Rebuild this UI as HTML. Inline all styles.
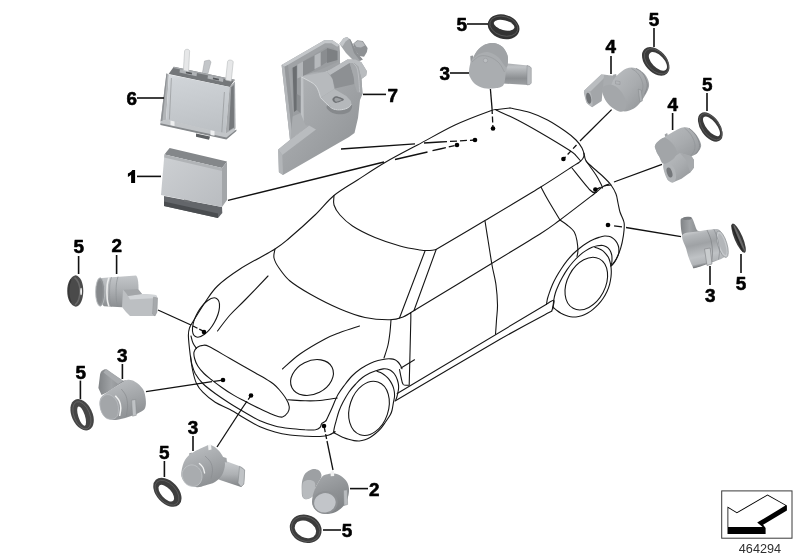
<!DOCTYPE html>
<html><head><meta charset="utf-8"><title>464294</title>
<style>
html,body{margin:0;padding:0;background:#fff;}
body{width:800px;height:560px;overflow:hidden;font-family:"Liberation Sans",sans-serif;}
svg{display:block;will-change:transform;opacity:0.9999}
svg text{font-family:"Liberation Sans",sans-serif;}
</style></head><body>
<svg width="800" height="560" viewBox="0 0 800 560">
<rect width="800" height="560" fill="#fff"/>
<defs>
<linearGradient id="gA" x1="0" y1="0" x2="1" y2="1"><stop offset="0" stop-color="#c6c9cc"/><stop offset="0.55" stop-color="#a9acaf"/><stop offset="1" stop-color="#85888b"/></linearGradient>
<linearGradient id="gB" x1="0" y1="0" x2="0" y2="1"><stop offset="0" stop-color="#c9cccf"/><stop offset="0.5" stop-color="#aeb1b4"/><stop offset="1" stop-color="#808386"/></linearGradient>
<linearGradient id="gC" x1="0" y1="0" x2="1" y2="0"><stop offset="0" stop-color="#8e9194"/><stop offset="0.5" stop-color="#b4b7ba"/><stop offset="1" stop-color="#9a9da0"/></linearGradient>
<linearGradient id="gF" x1="0" y1="0" x2="1" y2="1"><stop offset="0" stop-color="#cdd0d3"/><stop offset="1" stop-color="#b9bcc0"/></linearGradient>
<linearGradient id="g7" x1="0" y1="0" x2="1" y2="1"><stop offset="0" stop-color="#b6b9bc"/><stop offset="1" stop-color="#8b8e91"/></linearGradient>
<linearGradient id="gCyl" x1="0" y1="0" x2="0" y2="1"><stop offset="0" stop-color="#a9acaf"/><stop offset="0.18" stop-color="#c0c3c6"/><stop offset="0.7" stop-color="#8c8f92"/><stop offset="1" stop-color="#9da0a3"/></linearGradient>
<linearGradient id="gS4" x1="0" y1="0" x2="1" y2="1"><stop offset="0" stop-color="#bcbfc2"/><stop offset="0.5" stop-color="#a9acaf"/><stop offset="1" stop-color="#8e9194"/></linearGradient>
<linearGradient id="gCd" x1="0" y1="0" x2="1" y2="0"><stop offset="0" stop-color="#808386"/><stop offset="0.45" stop-color="#a0a3a6"/><stop offset="1" stop-color="#85888b"/></linearGradient>
<linearGradient id="gBody" x1="0" y1="0" x2="0.25" y2="1"><stop offset="0" stop-color="#e6e7e8"/><stop offset="0.2" stop-color="#b4b7ba"/><stop offset="0.45" stop-color="#9fa2a5"/><stop offset="0.75" stop-color="#bfc2c5"/><stop offset="0.92" stop-color="#b1b4b7"/><stop offset="1" stop-color="#6e7174"/></linearGradient>
<linearGradient id="gBody2" x1="0" y1="0" x2="0" y2="1"><stop offset="0" stop-color="#c3c6c9"/><stop offset="0.4" stop-color="#b0b3b6"/><stop offset="1" stop-color="#8b8e91"/></linearGradient>
<linearGradient id="gS3" x1="0.3" y1="0" x2="0.7" y2="1"><stop offset="0" stop-color="#bbbec1"/><stop offset="0.5" stop-color="#a3a6a9"/><stop offset="1" stop-color="#8a8d90"/></linearGradient>
<linearGradient id="gS2" x1="0.3" y1="0" x2="0.7" y2="1"><stop offset="0" stop-color="#a3a6a9"/><stop offset="0.5" stop-color="#8f9295"/><stop offset="1" stop-color="#7e8184"/></linearGradient>
<linearGradient id="gF6" x1="0" y1="0" x2="0.15" y2="1"><stop offset="0" stop-color="#dde0e4"/><stop offset="0.12" stop-color="#cfd3d7"/><stop offset="1" stop-color="#bdc1c5"/></linearGradient>
</defs>
<g fill="none" stroke="#161616" stroke-width="1.1" stroke-linecap="round" stroke-linejoin="round">
<path d="M510.0,108.0 C507.9,108.2 500.8,109.0 497.5,109.5 C494.2,110.0 497.1,108.4 490.0,111.0 C482.9,113.6 467.1,119.3 455.0,125.0 C442.9,130.7 429.2,138.8 417.5,145.0 C405.8,151.2 395.0,156.7 385.0,162.5 C375.0,168.3 366.0,174.5 357.5,180.0 C349.0,185.5 341.1,189.7 334.0,195.5 C326.9,201.3 322.3,208.0 315.0,215.0 C307.7,222.0 296.7,231.8 290.0,237.5 C283.3,243.2 283.3,243.8 275.0,249.0 C266.7,254.2 249.6,262.8 240.0,269.0 C230.4,275.2 223.3,280.4 217.5,286.0 C211.7,291.6 208.9,296.8 205.0,302.5 C201.1,308.2 196.6,315.8 194.0,320.0 C191.4,324.2 190.4,325.3 189.5,328.0 C188.6,330.7 188.3,331.5 188.4,336.0 C188.5,340.5 189.5,348.9 190.2,354.8 C191.0,360.6 191.7,366.2 192.8,371.0 C193.8,375.8 194.8,380.0 196.5,383.5 C198.2,387.0 199.6,389.1 202.8,392.2 C205.9,395.4 210.7,399.4 215.2,402.2 C219.8,405.1 225.0,406.8 230.0,409.5 C235.0,412.2 240.0,415.6 245.0,418.5 C250.0,421.4 255.0,424.5 260.0,426.8 C265.0,429.0 270.0,430.6 275.0,432.0 C280.0,433.4 285.0,434.3 290.0,435.0 C295.0,435.7 300.0,435.9 305.0,436.2 C310.0,436.4 316.0,436.7 320.0,436.5 C324.0,436.3 326.5,435.8 329.0,435.0 C331.5,434.2 334.0,432.2 335.0,431.7"/>
<path d="M510.0,108.0 C513.3,108.8 523.8,110.5 530.0,112.5 C536.2,114.5 541.7,116.9 547.5,120.0 C553.3,123.1 560.2,127.7 565.0,131.0 C569.8,134.3 573.2,137.2 576.0,140.0 C578.8,142.8 580.7,145.5 582.0,148.0 C583.3,150.5 583.9,153.2 584.0,155.0 C584.1,156.8 583.3,157.8 582.5,159.0 C581.7,160.2 580.9,161.1 579.0,162.5 C577.1,163.9 577.5,163.3 571.0,167.5 C564.5,171.7 554.3,178.7 540.0,187.5 C525.7,196.3 502.3,210.2 485.0,220.5 C467.7,230.8 444.2,244.7 436.0,249.5"/>
<path d="M496.0,110.0 C499.6,111.7 510.2,116.2 517.5,120.0 C524.8,123.8 531.4,127.5 540.0,132.5 C548.6,137.5 563.0,146.2 569.0,150.0 C575.0,153.8 574.1,153.8 576.0,155.6 C577.9,157.4 579.8,160.1 580.6,161.0"/>
<path d="M584.0,153.0 C584.3,154.2 584.6,158.0 585.6,160.0 C586.6,162.0 587.2,162.3 590.0,165.0 C592.8,167.7 599.0,172.7 602.5,176.0 C606.0,179.3 608.8,182.0 611.0,185.0 C613.2,188.0 614.8,191.0 616.0,194.0 C617.2,197.0 617.3,200.0 618.0,203.0 C618.7,206.0 619.1,209.2 620.0,212.0 C620.9,214.8 622.6,217.8 623.3,220.0 C624.0,222.2 624.3,222.4 624.3,225.0 C624.3,227.6 624.0,231.8 623.4,235.7 C622.8,239.6 621.9,244.3 620.7,248.2 C619.5,252.1 617.7,256.2 616.2,259.0 C614.8,261.8 612.5,264.2 611.8,265.2"/>
<path d="M586.0,161.0 C587.7,163.3 593.5,171.2 596.0,175.0 C598.5,178.8 599.9,181.8 601.0,184.0 C602.1,186.2 602.2,187.3 602.5,188.0"/>
<path d="M572.0,168.0 C575.0,171.7 586.0,185.9 590.0,190.0 C594.0,194.1 595.0,192.1 596.0,192.5"/>
<path d="M596.0,192.5 C590.0,197.1 569.3,213.1 560.0,220.0 C550.7,226.9 551.7,226.6 540.0,234.0 C528.3,241.4 510.8,251.8 490.0,264.5 C469.2,277.2 427.5,302.4 415.0,310.0"/>
<path d="M596.0,192.5 C597.3,191.4 601.5,187.2 604.0,186.0 C606.5,184.8 609.8,185.2 611.0,185.0"/>
<path d="M541.0,187.0 C542.2,189.2 544.8,194.5 548.0,200.0 C551.2,205.5 558.0,216.7 560.0,220.0"/>
<path d="M560.0,220.0 C561.2,220.8 564.7,223.0 567.1,225.0 C569.5,227.0 572.6,229.3 574.3,232.0 C575.9,234.7 576.4,237.8 577.0,241.0 C577.6,244.2 577.9,248.4 577.9,251.0 C577.9,253.6 577.1,255.6 577.0,256.5"/>
<path d="M485.0,221.0 C485.5,224.2 486.8,232.7 488.0,240.0 C489.2,247.3 490.7,257.5 492.0,265.0 C493.3,272.5 495.1,278.3 496.0,285.0 C496.9,291.7 497.4,299.2 497.5,305.0 C497.6,310.8 496.8,315.1 496.5,320.0 C496.2,324.9 495.7,331.9 495.5,334.2"/>
<path d="M334.0,195.5 C334.0,197.1 333.0,201.8 334.0,205.0 C335.0,208.2 336.9,211.5 340.0,215.0 C343.1,218.5 346.7,222.2 352.5,226.0 C358.3,229.8 367.1,234.2 375.0,237.5 C382.9,240.8 392.5,243.9 400.0,246.0 C407.5,248.1 415.0,249.2 420.0,250.0 C425.0,250.8 427.3,250.6 430.0,250.5 C432.7,250.4 435.0,249.7 436.0,249.5"/>
<path d="M275.0,249.0 C274.8,250.5 273.3,254.8 274.0,258.0 C274.7,261.2 276.3,264.2 279.0,268.0 C281.7,271.8 284.8,276.7 290.0,281.0 C295.2,285.3 301.7,289.3 310.0,294.0 C318.3,298.7 330.8,305.1 340.0,309.0 C349.2,312.9 356.7,315.7 365.0,317.5 C373.3,319.3 383.7,319.9 390.0,319.8 C396.3,319.7 398.8,318.6 403.0,317.0 C407.2,315.4 413.0,311.2 415.0,310.0"/>
<path d="M425.0,251.0 L399.5,318.0"/>
<path d="M436.0,250.0 L414.0,310.5"/>
<path d="M410.5,313.5 C410.5,314.6 411.0,308.0 410.8,320.0 C410.5,332.0 409.5,374.4 409.2,385.2"/>
<path d="M391.0,320.0 C390.8,322.0 390.5,327.8 390.0,332.0 C389.5,336.2 389.0,340.7 388.0,345.0 C387.0,349.3 384.7,355.8 384.0,358.0"/>
<path d="M268.0,276.0 C264.2,280.0 251.3,293.5 245.0,300.0 C238.7,306.5 234.6,309.8 230.0,315.0 C225.4,320.2 219.6,328.3 217.5,331.0"/>
<path d="M359.5,326.0 C356.2,327.1 345.8,330.3 340.0,332.5 C334.2,334.7 331.7,335.4 325.0,339.0 C318.3,342.6 307.1,349.0 300.0,354.0 C292.9,359.0 285.4,366.5 282.5,369.0"/>
<path d="M194.0,352.2 C194.4,350.4 195.5,348.6 197.0,347.5 C198.5,346.4 200.8,345.5 202.8,345.4 C204.8,345.2 204.5,344.4 209.0,346.6 C213.5,348.8 222.3,354.1 230.0,358.5 C237.7,362.9 249.1,369.4 255.0,372.7 C260.9,376.0 262.2,376.6 265.2,378.5 C268.3,380.4 271.1,382.1 273.5,384.0 C275.9,385.9 277.4,387.5 279.5,390.0 C281.6,392.5 284.6,396.2 286.2,399.0 C287.9,401.8 289.0,404.2 289.2,406.5 C289.5,408.8 288.9,410.8 287.8,412.5 C286.6,414.2 284.6,416.5 282.5,417.0 C280.4,417.5 278.8,416.9 275.0,415.5 C271.2,414.1 265.0,411.1 260.0,408.8 C255.0,406.4 249.3,403.5 245.0,401.2 C240.7,399.0 237.9,397.7 234.0,395.4 C230.1,393.1 225.2,389.9 221.5,387.2 C217.8,384.6 214.4,382.0 211.5,379.8 C208.6,377.5 206.3,375.8 204.0,373.5 C201.7,371.2 199.3,368.5 197.8,366.0 C196.2,363.5 195.2,360.8 194.6,358.5 C194.0,356.2 193.6,354.1 194.0,352.2Z"/>
<path d="M191.0,336.0 C191.3,337.2 192.1,340.9 193.0,343.0 C193.9,345.1 195.9,347.6 196.5,348.5"/>
<path d="M190.5,356.0 C190.8,357.5 191.2,361.8 192.0,364.8 C192.8,367.7 193.5,370.4 195.2,373.5 C197.0,376.6 199.4,380.2 202.8,383.5 C206.1,386.8 210.7,390.2 215.2,393.5 C219.8,396.8 225.0,400.3 230.0,403.5 C235.0,406.7 240.0,409.6 245.0,412.5 C250.0,415.4 255.0,418.5 260.0,420.8 C265.0,423.0 270.0,424.7 275.0,426.0 C280.0,427.3 285.0,427.9 290.0,428.5 C295.0,429.1 300.8,429.5 305.0,429.8 C309.2,430.0 313.0,430.1 315.5,429.8 C318.0,429.4 319.0,428.5 320.0,427.5 C321.0,426.5 320.9,424.6 321.5,423.8 C322.1,422.9 323.0,422.8 323.8,422.2 C324.5,421.8 325.6,421.0 326.0,420.8"/>
<path d="M287.8,399.8 C290.6,399.9 299.6,400.7 305.0,400.8 C310.4,400.9 314.6,401.0 320.0,400.5 C325.4,400.0 334.4,398.4 337.2,398.0"/>
<path d="M326.0,420.8 C326.4,420.0 327.2,418.4 328.2,416.2 C329.2,414.1 330.4,411.6 332.0,408.0 C333.6,404.4 335.8,398.5 338.0,394.6 C340.2,390.7 342.7,387.6 345.0,384.5 C347.3,381.4 349.3,378.7 352.0,376.0 C354.7,373.3 358.0,370.6 361.0,368.5 C364.0,366.4 367.2,364.7 370.0,363.4 C372.8,362.1 375.3,361.2 378.0,360.5 C380.7,359.8 383.8,359.3 386.0,359.0 C388.2,358.7 389.5,358.8 391.0,358.9 C392.5,359.0 393.8,359.3 395.0,359.8 C396.2,360.3 397.1,361.1 398.0,362.0 C398.9,362.9 399.7,364.1 400.4,365.2 C401.1,366.3 401.7,368.2 402.0,368.8"/>
<path d="M335.0,431.7 C334.8,431.8 333.7,433.3 333.6,432.5 C333.5,431.7 334.1,428.9 334.5,427.0 C334.9,425.1 335.2,424.1 336.0,421.4 C336.8,418.7 337.8,414.3 339.0,411.0 C340.2,407.7 341.5,405.0 343.2,401.8 C344.9,398.6 346.9,395.0 349.0,392.0 C351.1,389.0 353.4,386.4 355.7,384.0 C357.9,381.6 360.1,379.3 362.5,377.5 C364.9,375.7 367.8,374.1 370.0,373.0 C372.2,371.9 373.8,371.4 376.0,370.7 C378.2,370.0 381.4,369.2 383.2,368.9 C385.0,368.6 385.8,368.8 387.0,369.0 C388.2,369.2 389.3,369.7 390.4,370.3 C391.4,370.9 392.4,371.8 393.3,372.7 C394.2,373.6 395.0,374.8 395.7,376.0 C396.4,377.2 396.9,378.6 397.4,380.0 C397.8,381.4 398.2,382.8 398.4,384.1 C398.6,385.4 398.7,386.7 398.6,388.0 C398.5,389.3 398.3,390.6 398.0,392.0 C397.7,393.4 397.4,395.1 397.0,396.5 C396.6,397.9 395.9,399.6 395.7,400.2"/>
<path d="M377.0,371.2 C377.6,371.4 379.3,372.0 380.5,372.6 C381.7,373.2 382.9,373.9 384.1,374.7 C385.3,375.5 386.4,376.6 387.5,377.7 C388.6,378.8 389.6,380.1 390.4,381.4 C391.2,382.7 391.9,383.9 392.5,385.3 C393.1,386.7 393.6,388.1 393.9,389.5 C394.2,390.9 394.4,392.2 394.5,393.5 C394.6,394.8 394.6,396.1 394.4,397.5 C394.2,398.9 393.9,399.9 393.5,402.0 C393.1,404.1 392.6,407.9 392.1,410.0 C391.6,412.1 391.4,412.8 390.3,414.8 C389.2,416.8 387.1,419.7 385.5,422.0 C383.9,424.3 382.4,426.7 380.7,428.6 C379.0,430.5 377.3,432.0 375.5,433.5 C373.7,435.0 371.8,436.4 370.0,437.5 C368.2,438.6 366.8,439.2 365.0,439.8 C363.2,440.4 361.1,440.9 359.3,441.0 C357.5,441.1 355.8,440.9 354.0,440.6 C352.2,440.3 350.3,439.8 348.6,439.3 C346.9,438.8 345.5,438.3 344.0,437.7 C342.5,437.1 341.3,436.5 339.6,435.7 C337.9,434.9 334.6,433.2 333.6,432.7"/>
<path d="M397.2,393.5 L546.5,304.2"/>
<path d="M395.0,401.0 C412.5,390.7 473.9,354.3 500.0,339.3 C526.1,324.3 543.1,315.7 551.8,311.0"/>
<path d="M546.5,304.2 C547.8,303.6 553.1,299.4 554.0,300.5 C554.9,301.6 552.1,309.2 551.8,311.0"/>
<path d="M399.5,369.5 C399.8,370.8 400.4,374.5 401.0,377.0 C401.6,379.5 402.0,383.1 403.2,384.5 C404.5,385.9 407.6,385.1 408.5,385.2"/>
<path d="M401.0,368.0 L414.5,359.8"/>
<path d="M546.5,304.2 C546.7,303.3 547.0,300.4 547.5,298.5 C548.0,296.6 548.5,295.2 549.3,292.9 C550.1,290.6 551.3,287.2 552.5,284.5 C553.7,281.8 554.9,279.5 556.4,276.8 C557.9,274.1 559.7,271.2 561.5,268.5 C563.3,265.8 565.2,263.1 567.1,260.7 C569.0,258.3 570.9,256.1 573.0,254.0 C575.1,251.9 577.4,250.0 579.6,248.2 C581.9,246.4 584.1,244.8 586.5,243.3 C588.9,241.8 591.7,240.3 593.9,239.3 C596.1,238.3 597.7,237.8 599.5,237.2 C601.3,236.6 603.1,236.2 604.6,236.0 C606.1,235.8 607.3,236.1 608.5,236.3 C609.7,236.6 610.8,236.9 611.8,237.5 C612.8,238.1 613.9,238.9 614.8,239.8 C615.7,240.7 616.5,241.8 617.1,242.9 C617.7,244.0 618.2,245.3 618.5,246.5 C618.8,247.7 618.9,248.9 618.9,250.0 C618.9,251.1 618.9,252.1 618.8,253.0 C618.6,253.9 618.5,254.3 618.0,255.4 C617.5,256.5 616.7,258.5 616.0,259.8 C615.3,261.1 614.5,262.4 613.6,263.4 C612.8,264.4 611.4,265.6 610.9,266.0"/>
<path d="M552.9,309.0 C553.0,307.5 553.3,302.8 553.8,300.0 C554.2,297.2 554.8,294.9 555.5,292.5 C556.2,290.1 557.1,288.2 558.2,285.7 C559.3,283.2 560.8,280.2 562.3,277.5 C563.8,274.8 565.3,272.2 567.1,269.6 C568.9,267.0 570.9,264.4 573.0,262.0 C575.1,259.6 577.5,257.2 579.6,255.4 C581.7,253.6 583.4,252.2 585.5,250.9 C587.6,249.6 590.1,248.2 592.1,247.3 C594.1,246.5 595.7,246.1 597.5,245.8 C599.3,245.5 601.4,245.3 602.9,245.5 C604.4,245.7 605.3,246.2 606.3,246.8 C607.3,247.4 608.4,248.2 609.1,249.1 C609.9,250.0 610.3,250.9 610.8,252.0 C611.2,253.1 611.6,254.2 611.8,255.4 C612.0,256.6 612.0,257.8 612.0,259.0 C612.0,260.2 612.0,261.3 611.8,262.5 C611.6,263.7 611.0,265.4 610.9,266.0"/>
<path d="M594.8,247.3 C595.5,247.6 597.6,248.2 599.0,248.8 C600.4,249.4 601.8,250.1 602.9,250.9 C604.0,251.7 604.9,252.8 605.8,253.8 C606.7,254.8 607.5,255.8 608.2,257.1 C608.9,258.4 609.5,260.0 609.9,261.5 C610.3,263.0 610.7,264.3 610.9,266.0 C611.1,267.7 611.3,269.7 611.3,271.5 C611.3,273.3 611.3,274.7 611.0,276.8 C610.7,278.9 610.3,281.9 609.6,284.3 C608.9,286.8 608.1,289.2 607.0,291.5 C605.9,293.8 604.7,296.1 603.2,298.2 C601.8,300.3 600.0,302.5 598.3,304.4 C596.6,306.2 594.8,307.8 593.0,309.3 C591.2,310.8 589.2,312.1 587.3,313.2 C585.4,314.3 583.6,315.2 581.7,315.8 C579.8,316.4 577.9,316.9 576.0,317.0 C574.1,317.1 572.3,317.0 570.5,316.7 C568.7,316.4 567.0,315.8 565.4,315.2 C563.8,314.6 562.4,313.9 561.0,313.2 C559.6,312.4 558.6,311.7 557.3,310.7 C555.9,309.7 553.6,307.6 552.9,307.0"/>
<ellipse cx="206.0" cy="317.5" rx="9.7" ry="21.8" transform="rotate(29.0 206.0 317.5)" />
<ellipse cx="312.0" cy="377.5" rx="22.5" ry="16.5" transform="rotate(-27.0 312.0 377.5)" />
<ellipse cx="369.0" cy="408.4" rx="19.3" ry="27.8" transform="rotate(18.7 369.0 408.4)" />
<ellipse cx="586.3" cy="283.6" rx="19.0" ry="28.0" transform="rotate(28.0 586.3 283.6)" />
</g>
<g>
<polygon points="204.5,61.0 209.5,60.0 211.0,62.0 206.5,79.0 201.5,78.0" fill="#c3c6c9" stroke="#a0a3a6" stroke-width="0.5"/>
<polygon points="168.6,74.0 173.8,66.8 234.8,79.8 229.8,87.0" fill="#74777a" />
<polygon points="173.8,66.8 234.8,79.8 234.4,81.0 173.3,68.0" fill="#a3a6a9" />
<polygon points="180.0,69.2 197.0,72.8 196.5,76.2 179.5,72.5" fill="#b0b3b6" />
<polygon points="186.0,71.5 192.0,72.8 191.8,74.6 185.8,73.3" fill="#55585b" />
<polygon points="208.0,75.2 223.5,78.6 223.0,82.0 207.5,78.6" fill="#b0b3b6" />
<polygon points="213.0,77.4 219.0,78.7 218.8,80.5 212.8,79.2" fill="#55585b" />
<path d="M183.4,70.5 L184.6,51 C184.8,48.6 189.6,48.8 189.6,51.2 L188.6,71.6Z" fill="#e6e7e8" stroke="#b9bcbe" stroke-width="0.6"/>
<path d="M225.6,80 L227.6,61.5 C228,59.2 233.4,59.8 233.2,62.2 L231.2,81.2Z" fill="#e6e7e8" stroke="#b9bcbe" stroke-width="0.6"/>
<polygon points="166.4,73.4 168.9,74.5 166.1,120.0 160.6,121.6" fill="#b1b4b7" />
<polygon points="166.4,73.4 167.4,73.8 162.4,121.0 160.6,121.6" fill="#8f9295" />
<polygon points="168.9,74.5 229.6,87.0 225.5,134.3 166.1,120.0" fill="url(#gF6)" />
<polygon points="229.6,87.0 235.0,81.5 235.6,128.5 225.5,134.3" fill="#a5a8ab" />
<polygon points="231.2,87.6 233.8,85.0 234.0,127.4 229.0,130.4" fill="#75787b" />
<polygon points="160.4,121.4 166.1,119.6 225.5,133.6 233.6,128.5 236.4,130.4 226.4,138.9 160.4,124.6" fill="#c2c5c8" />
<polygon points="160.4,123.2 226.4,137.6 236.4,129.6 236.4,130.9 226.4,139.4 160.4,125.0" fill="#85888b" />
<polygon points="170.5,120.5 174.5,121.4 174.5,126.0 170.5,125.1" fill="#eeeff0" />
<polygon points="210.5,130.2 214.5,131.1 214.5,135.8 210.5,134.9" fill="#eeeff0" />
<path d="M171.4,78 L169.4,119.6 M224.4,92 L221.8,132.2" stroke="#9a9da0" stroke-width="0.8" fill="none"/>
<polygon points="196.0,133.4 210.0,136.6 209.0,139.8 196.0,136.8" fill="#5d6063" />
</g>
<g>
<polygon points="164.0,206.0 164.0,196.0 222.0,207.0 222.3,213.0 218.0,218.0" fill="#63666a" />
<polygon points="164.0,201.5 218.0,213.5 218.0,218.0 164.0,206.0" fill="#4a4d50" />
<polygon points="164.4,154.4 169.6,148.0 227.0,161.6 222.0,168.0" fill="#84878a" />
<polygon points="222.0,168.0 227.0,161.6 227.0,200.0 222.0,207.0" fill="#a3a6a9" />
<polygon points="164.4,154.4 222.0,168.0 222.0,207.0 161.0,195.0" fill="url(#gF)" />
<polygon points="164.4,154.4 222.0,168.0 222.0,171.0 164.2,157.4" fill="#b0b3b6" />
<polygon points="184.0,199.5 190.0,200.8 190.0,203.0 184.0,201.7" fill="#6b6e71" />
</g>
<g>
<polygon points="339.4,43.8 343.5,38.2 347.0,36.9 350.4,39.6 357.3,53.4 362.8,59.6 356.0,63.0 346.0,53.0" fill="#a2a5a8" />
<polygon points="339.4,43.8 343.5,38.2 347.0,36.9 349.3,38.7 345.5,41.5 342.5,46.5" fill="#c3c6c9" />
<polygon points="349.3,38.7 350.4,39.6 357.3,53.4 362.8,59.6 360.0,60.5 354.0,53.0" fill="#8c8f92" />
<polygon points="353.1,43.8 357.3,40.3 362.8,41.0 367.6,47.9 366.9,52.0 364.1,56.8 359.0,56.0 355.0,50.0" fill="#8e9194" />
<polygon points="354.0,43.6 357.5,41.0 362.3,41.6 365.0,45.5 361.0,47.5 356.5,47.0" fill="#b6b9bc" />
<polygon points="281.6,65.0 324.3,40.3 332.5,40.3 339.4,45.0 340.0,52.0 340.0,66.0 301.0,82.0 301.0,130.0 290.0,140.0" fill="#a0a3a6" />
<polygon points="281.6,65.0 324.3,40.3 332.5,40.3 339.4,45.0 337.2,46.7 331.5,43.2 325.0,43.2 284.6,66.8" fill="#c4c7ca" />
<polygon points="281.6,65.0 284.6,66.8 292.7,138.5 290.0,140.0" fill="#b4b7ba" />
<polygon points="284.6,66.8 288.0,65.0 295.5,136.0 292.7,138.5" fill="#95989b" />
<polygon points="291.5,68.5 326.0,47.2 333.0,47.8 337.3,51.0 337.5,62.0 301.0,78.0 300.5,113.0 293.5,116.0" fill="#9a9da0" />
<polygon points="292.6,67.8 296.8,65.5 296.8,110.0 294.0,112.0" fill="#6b6e71" />
<polygon points="297.4,64.4 303.0,61.6 303.0,76.0 297.4,78.5" fill="#b3b6b9" />
<polygon points="303.0,61.6 314.6,55.4 314.6,70.0 303.0,76.0" fill="#8a8d90" />
<polygon points="314.6,55.4 320.8,52.2 320.8,66.0 314.6,69.0" fill="#b6b9bc" />
<polygon points="320.8,52.2 327.0,48.5 327.0,62.0 320.8,66.0" fill="#8a8d90" />
<polygon points="327.0,48.0 337.5,51.0 337.5,60.0 327.0,63.0" fill="#7d8083" />
<polygon points="296.8,94.0 300.5,96.0 300.5,113.0 296.8,110.0" fill="#8a8d90" />
<polygon points="300.9,76.8 313.0,72.6 326.9,71.4 347.4,59.4 355.4,59.4 361.4,62.3 366.9,71.2 366.2,75.4 361.5,79.0 362.5,94.0 360.0,100.0 358.0,118.0 354.5,133.0 349.0,137.0 283.0,175.0 278.9,172.2 278.2,149.5 290.5,139.5 301.0,131.0" fill="url(#g7)" />
<polygon points="300.9,76.8 303.3,76.4 303.8,129.0 301.0,131.0" fill="#bfc2c5" />
<polygon points="301.1,76.6 326.9,71.4 332.6,78.9 334.3,89.1 320.6,97.7 317.7,89.1 313.1,83.4" fill="#b7babd" />
<path d="M301.5,77.0 C303.4,78.1 310.4,81.4 313.1,83.4 C315.8,85.4 316.4,86.7 317.7,89.1 C318.9,91.5 320.1,96.3 320.6,97.7" fill="none" stroke="#d3d6d8" stroke-width="1.0"/>
<polygon points="326.9,71.4 347.4,59.4 355.4,59.4 361.4,62.3 366.9,71.2 366.2,75.4 361.5,79.0 358.3,66.5 354.0,63.0 349.7,62.9 330.3,74.9" fill="#b9bcbf" />
<polygon points="330.3,74.9 349.7,62.9 353.7,76.6 354.5,84.0 334.9,88.5 332.6,78.9" fill="#8d9093" />
<polygon points="349.7,62.9 354.0,63.0 358.3,66.5 361.5,79.0 362.5,94.0 357.0,92.0 354.5,84.0 353.7,76.6" fill="#a5a8ab" />
<path d="M353.3,63.2 C353.9,64.0 356.1,65.4 357.0,68.0 C357.9,70.6 358.4,75.0 358.8,79.0 C359.2,83.0 359.5,89.8 359.6,92.0" fill="none" stroke="#bec1c4" stroke-width="0.9"/>
<polygon points="320.6,97.7 334.3,89.1 346.3,96.0 350.9,101.1 351.4,104.0 348.6,107.4 341.7,109.7 333.7,109.1 328.0,105.1" fill="#b5b8bb" />
<path d="M328.0,105.1 C329.1,105.2 331.4,108.3 333.7,109.1 C336.0,109.9 339.2,110.0 341.7,109.7 C344.2,109.4 347.0,108.4 348.6,107.4 C350.2,106.5 350.8,104.0 351.4,104.0 C352.0,104.0 352.4,106.1 352.0,107.4 C351.6,108.7 350.8,110.8 349.1,112.0 C347.4,113.2 344.4,114.1 341.7,114.3 C338.9,114.5 335.1,114.0 332.6,113.1 C330.1,112.1 327.7,109.9 326.9,108.6 C326.1,107.3 326.9,105.0 328.0,105.1Z" fill="#86898c" />
<path d="M320.6,97.7 C321.8,98.9 325.8,103.2 328.0,105.1 C330.2,107.0 331.4,108.3 333.7,109.1 C336.0,109.9 339.2,110.0 341.7,109.7 C344.2,109.4 347.0,108.4 348.6,107.4 C350.2,106.5 350.9,104.6 351.4,104.0" fill="none" stroke="#d6d9db" stroke-width="1.0"/>
<path d="M332.6,98.6 C333.1,97.8 334.2,96.2 336.0,96.2 C337.8,96.2 342.7,98.1 343.6,98.9 C344.6,99.7 343.0,100.4 341.7,101.1 C340.4,101.8 337.4,102.9 336.0,102.9 C334.6,102.9 333.7,102.0 333.1,101.3 C332.5,100.6 332.1,99.4 332.6,98.6Z" fill="#6e7174" />
<path d="M334.5,99.0 C334.8,98.5 335.3,97.7 336.5,97.8 C337.7,97.9 340.8,98.9 341.5,99.4 C342.2,99.9 341.4,100.2 340.5,100.6 C339.6,101.0 337.3,101.8 336.3,101.8 C335.3,101.8 335.0,101.1 334.7,100.6 C334.4,100.1 334.2,99.5 334.5,99.0Z" fill="#9da0a3" />
<polygon points="278.2,149.5 290.5,139.5 309.1,125.4 316.0,129.6 282.3,155.0" fill="#b9bcbf" />
<polygon points="278.2,149.5 282.3,155.0 283.0,175.0 278.9,172.2" fill="#b2b5b8" />
<polygon points="292.6,116.5 300.5,113.0 305.7,125.4 309.1,125.4 290.5,139.5" fill="#a9acaf" />
</g>
<ellipse cx="503.6" cy="26.8" rx="16.2" ry="12.0" transform="rotate(18.0 503.6 26.8)" fill="#333" /><ellipse cx="503.8" cy="26.2" rx="14.4" ry="9.6" transform="rotate(16.8 503.8 26.2)" fill="none" stroke="#626262" stroke-width="0.7"/><ellipse cx="504.1" cy="25.2" rx="10.6" ry="4.9" transform="rotate(15.0 504.1 25.2)" fill="#fff" />
<ellipse cx="655.7" cy="61.3" rx="16.6" ry="10.8" transform="rotate(48.0 655.7 61.3)" fill="#3a3a3a" /><ellipse cx="656.6" cy="61.3" rx="15.0" ry="9.3" transform="rotate(47.2 656.6 61.3)" fill="none" stroke="#626262" stroke-width="0.7"/><ellipse cx="657.9" cy="61.4" rx="11.5" ry="6.0" transform="rotate(46.0 657.9 61.4)" fill="#fff" />
<ellipse cx="710.3" cy="127.0" rx="16.6" ry="9.6" transform="rotate(55.0 710.3 127.0)" fill="#3a3a3a" /><ellipse cx="710.8" cy="126.7" rx="15.2" ry="8.2" transform="rotate(53.4 710.8 126.7)" fill="none" stroke="#626262" stroke-width="0.7"/><ellipse cx="711.5" cy="126.3" rx="12.0" ry="5.0" transform="rotate(51.0 711.5 126.3)" fill="#fff" />
<ellipse cx="82.1" cy="414.8" rx="16.6" ry="10.3" transform="rotate(65.0 82.1 414.8)" fill="#454545" /><ellipse cx="81.9" cy="415.3" rx="14.4" ry="7.9" transform="rotate(67.8 81.9 415.3)" fill="none" stroke="#6a6a6a" stroke-width="0.7"/><ellipse cx="81.6" cy="416.1" rx="10.1" ry="3.3" transform="rotate(72.0 81.6 416.1)" fill="#fff" />
<ellipse cx="167.4" cy="492.3" rx="17.0" ry="11.0" transform="rotate(47.0 167.4 492.3)" fill="#3e3e3e" /><ellipse cx="167.0" cy="492.7" rx="14.7" ry="9.0" transform="rotate(47.4 167.0 492.7)" fill="none" stroke="#626262" stroke-width="0.7"/><ellipse cx="166.3" cy="493.2" rx="10.3" ry="5.0" transform="rotate(48.0 166.3 493.2)" fill="#fff" />
<ellipse cx="305.7" cy="528.8" rx="16.3" ry="13.8" transform="rotate(25.0 305.7 528.8)" fill="#3c3c3c" /><ellipse cx="305.6" cy="529.0" rx="14.7" ry="12.0" transform="rotate(25.0 305.6 529.0)" fill="none" stroke="#626262" stroke-width="0.7"/><ellipse cx="305.4" cy="529.4" rx="11.2" ry="8.2" transform="rotate(25.0 305.4 529.4)" fill="#fff" />
<ellipse cx="738.6" cy="238.2" rx="15.8" ry="4.1" transform="rotate(67.0 738.6 238.2)" fill="#3b3b3b" />
<ellipse cx="739.3" cy="238.0" rx="14.2" ry="1.1" transform="rotate(67.0 739.3 238.0)" fill="#6a6a6a" />
<ellipse cx="737.2" cy="238.6" rx="15.0" ry="0.8" transform="rotate(67.0 737.2 238.6)" fill="#252525" />
<path d="M75.5,275.3 C80.5,276 83.4,283 83.3,291 C83.2,299.5 80.5,306.2 75.8,306.8 C70.5,305.5 67.2,299 67.2,291 C67.2,283 70.5,276.5 75.5,275.3Z" fill="#4a4a4a"/>
<path d="M74.5,277.5 C78,280 80,285 80,291 C80,297.5 78,302.5 75,305" stroke="#686868" stroke-width="1.6" fill="none"/>
<path d="M71,279.5 C69.3,283 68.7,287 68.7,291 C68.7,295.5 69.5,299.5 71.3,302.5" stroke="#353535" stroke-width="1.2" fill="none"/>
<ellipse cx="81.1" cy="291.5" rx="0.9" ry="3.8" transform="rotate(0.0 81.1 291.5)" fill="#f2f2f2" />
<g>
<polygon points="503.0,63.0 528.0,65.5 531.0,67.5 531.0,83.0 528.0,85.0 503.0,83.5" fill="url(#gCyl)" />
<polygon points="527.0,65.5 530.0,66.5 531.3,68.0 531.3,83.0 530.0,84.5 527.0,85.0" fill="#b8bbbe" stroke="#8a8d90" stroke-width="0.5"/>
<polygon points="470.3,56.0 473.0,55.5 473.5,65.0 470.8,66.0" fill="#95989b" />
<path d="M469.0,73.0 C469.0,70.5 469.2,66.7 470.5,63.0 C471.8,59.3 474.6,54.1 477.0,51.0 C479.4,47.9 482.2,45.8 485.0,44.5 C487.8,43.2 491.2,42.7 494.0,43.0 C496.8,43.3 499.8,44.7 502.0,46.5 C504.2,48.3 506.0,51.6 507.0,54.0 C508.0,56.4 508.2,58.0 508.0,61.0 C507.8,64.0 506.8,68.0 506.0,72.0 C505.2,76.0 505.3,82.3 503.5,85.0 C501.7,87.7 498.2,87.8 495.0,88.3 C491.8,88.8 487.3,89.0 484.0,88.3 C480.7,87.6 477.2,85.7 475.0,84.0 C472.8,82.3 471.5,79.8 470.5,78.0 C469.5,76.2 469.0,75.5 469.0,73.0Z" fill="#aaadb0" />
<path d="M474.0,58.0 C473.7,57.5 475.2,53.2 477.0,51.0 C478.8,48.8 482.2,45.8 485.0,44.5 C487.8,43.2 491.2,42.7 494.0,43.0 C496.8,43.3 499.8,44.7 502.0,46.5 C504.2,48.3 506.0,51.6 507.0,54.0 C508.0,56.4 508.2,58.8 508.0,61.0 C507.8,63.2 507.7,67.7 506.0,67.0 C504.3,66.3 501.0,59.5 498.0,57.0 C495.0,54.5 491.2,52.5 488.0,52.0 C484.8,51.5 481.3,53.0 479.0,54.0 C476.7,55.0 474.3,58.5 474.0,58.0Z" fill="#a0a3a6" />
<path d="M472.0,62.0 C473.3,61.0 477.0,56.8 480.0,56.0 C483.0,55.2 486.8,55.8 490.0,57.0 C493.2,58.2 496.6,60.5 499.0,63.0 C501.4,65.5 503.6,70.5 504.5,72.0" fill="none" stroke="#96999c" stroke-width="0.7"/>
<circle cx="485.5" cy="60.5" r="2.2" fill="#bcbfc2" stroke="#909396" stroke-width="0.5"/>
</g>
<g>
<polygon points="584.0,90.7 601.2,74.6 607.1,75.1 611.4,77.8 612.0,86.0 602.8,88.0 601.7,100.9 592.1,107.3 586.7,103.0" fill="#a3a6a9" />
<polygon points="584.0,90.7 601.2,74.6 607.1,75.1 590.5,91.4" fill="#babdc0" />
<path d="M584.2,91.0 C585.0,90.0 588.2,90.3 589.5,91.3 C590.8,92.3 591.3,94.5 591.8,97.0 C592.3,99.5 593.1,105.5 592.3,106.5 C591.5,107.5 588.2,104.6 587.0,103.0 C585.8,101.4 585.3,99.0 584.8,97.0 C584.3,95.0 583.4,92.0 584.2,91.0Z" fill="#b4b7ba" />
<ellipse cx="588.7" cy="98.3" rx="2.4" ry="5.6" transform="rotate(-12.0 588.7 98.3)" fill="#6f7275" />
<polygon points="604.0,75.0 613.0,75.5 618.0,76.0 614.0,96.0 602.8,89.0" fill="#a9acaf" />
<polygon points="613.0,74.7 616.2,74.1 616.7,78.4 613.5,79.0" fill="#a3a6a9" />
<path d="M611.4,84.8 C612.2,81.6 614.2,78.4 616.7,75.7 C619.2,73.0 623.2,69.7 626.4,68.4 C629.6,67.2 633.0,67.2 636.0,68.2 C639.0,69.2 642.5,71.7 644.6,74.1 C646.8,76.5 648.4,80.0 648.9,82.7 C649.4,85.4 649.0,87.2 647.8,90.2 C646.5,93.2 643.7,97.9 641.4,100.9 C639.1,103.9 636.9,106.7 633.9,108.4 C630.9,110.1 626.2,112.0 623.2,111.3 C620.2,110.6 617.9,106.7 616.0,104.0 C614.1,101.3 612.8,98.2 612.0,95.0 C611.2,91.8 610.6,88.0 611.4,84.8Z" fill="url(#gS4)" />
<path d="M636.0,68.4 C636.8,68.9 639.5,70.1 641.0,71.5 C642.5,72.9 644.0,74.6 645.0,77.0 C646.0,79.4 647.4,83.0 647.3,85.9 C647.2,88.8 645.0,93.0 644.6,94.4" fill="none" stroke="#84878a" stroke-width="0.8"/>
<path d="M631.5,68.5 C632.4,69.2 635.4,70.8 637.0,72.5 C638.6,74.2 640.0,76.1 641.0,78.5 C642.0,80.9 643.1,84.2 643.0,87.0 C642.9,89.8 640.9,94.1 640.5,95.5" fill="none" stroke="#8d9093" stroke-width="0.6"/>
<polygon points="638.2,89.1 641.4,90.2 642.4,100.9 639.8,101.9" fill="#adb0b3" stroke="#85888b" stroke-width="0.5"/>
<path d="M602.3,87.5 C603.6,85.7 608.6,84.5 611.4,84.8 C614.2,85.1 616.8,87.1 618.9,89.1 C621.0,91.1 623.0,93.9 624.2,96.6 C625.5,99.3 626.6,102.8 626.4,105.2 C626.2,107.7 624.8,110.4 623.2,111.3 C621.6,112.2 619.2,111.7 616.7,110.5 C614.2,109.3 610.4,106.6 608.2,104.1 C606.0,101.6 604.3,98.3 603.3,95.5 C602.3,92.7 600.9,89.3 602.3,87.5Z" fill="#a4a7aa" />
<polygon points="615.5,80.8 620.0,81.5 620.0,84.5 615.5,83.8" fill="none" stroke="#909396" stroke-width="0.5"/>
</g>
<g>
<polygon points="664.6,134.4 667.1,133.1 668.2,136.5 665.5,138.0" fill="#a0a3a6" />
<path d="M655.2,145.0 C656.6,142.9 660.5,140.0 664.0,137.5 C667.5,135.0 673.4,131.7 676.5,130.0 C679.6,128.3 680.7,127.8 682.8,127.5 C684.8,127.2 686.7,126.8 689.0,128.1 C691.3,129.3 694.5,132.4 696.5,135.0 C698.5,137.6 700.3,141.5 700.9,143.8 C701.5,146.0 701.0,147.1 700.2,148.8 C699.5,150.4 698.0,152.5 696.5,153.8 C695.0,155.0 694.2,155.2 691.5,156.2 C688.8,157.3 683.9,158.9 680.0,160.0 C676.1,161.1 671.5,163.6 668.0,163.0 C664.5,162.4 661.0,158.4 659.0,156.2 C657.0,154.1 656.5,151.9 655.9,150.0 C655.3,148.1 653.9,147.1 655.2,145.0Z" fill="url(#gS4)" />
<path d="M689.0,128.3 C690.0,129.2 693.3,131.7 695.0,134.0 C696.7,136.3 698.3,139.5 699.0,142.0 C699.7,144.5 699.6,147.0 699.0,149.0 C698.4,151.0 696.1,153.2 695.5,154.0" fill="none" stroke="#84878a" stroke-width="0.8"/>
<path d="M684.5,128.0 C685.5,129.0 688.8,131.6 690.5,134.0 C692.2,136.4 693.8,139.8 694.5,142.5 C695.2,145.2 695.1,147.8 694.5,150.0 C693.9,152.2 691.6,154.6 691.0,155.5" fill="none" stroke="#8d9093" stroke-width="0.6"/>
<polygon points="663.4,163.8 680.0,153.0 691.5,156.2 694.0,160.0 694.0,167.5 690.2,172.5 681.5,178.8 672.8,182.5 667.8,180.0 664.0,170.0" fill="url(#gS4)" />
<polygon points="680.0,153.0 691.5,156.2 694.0,160.0 694.0,167.5 690.2,172.5 686.0,160.0" fill="#a6a9ac" />
<path d="M663.5,164.5 C664.3,163.0 667.2,162.2 669.0,163.0 C670.8,163.8 673.3,166.5 674.5,169.0 C675.7,171.5 676.3,175.8 676.0,178.0 C675.7,180.2 674.1,182.2 672.8,182.5 C671.4,182.8 669.2,181.8 667.8,180.0 C666.3,178.2 665.0,174.6 664.3,172.0 C663.6,169.4 662.7,166.0 663.5,164.5Z" fill="#b1b4b7" />
<ellipse cx="669.5" cy="172.5" rx="2.6" ry="5.2" transform="rotate(-18.0 669.5 172.5)" fill="#74777a" />
<path d="M655.2,145.0 C655.8,143.4 657.5,141.7 659.0,140.5 C660.5,139.3 662.2,137.7 664.0,137.8 C665.8,137.9 668.1,139.3 670.0,141.0 C671.9,142.7 674.4,145.8 675.5,148.0 C676.6,150.2 677.1,152.0 676.5,154.0 C675.9,156.0 674.2,158.4 672.0,160.0 C669.8,161.6 665.6,164.4 663.4,163.8 C661.2,163.1 660.2,158.5 659.0,156.2 C657.8,154.0 656.5,151.9 655.9,150.0 C655.3,148.1 654.7,146.6 655.2,145.0Z" fill="#a2a5a8" />
</g>
<g>
<path d="M680.6,221.2 C680.6,218.3 681.4,218.8 682.5,218.1 C683.6,217.4 685.9,216.9 687.5,216.9 C689.1,216.9 690.7,216.9 691.9,218.1 C693.1,219.3 693.7,222.0 694.5,224.0 C695.3,226.0 696.0,228.7 696.9,230.0 C697.8,231.3 701.1,231.2 700.0,232.0 C698.9,232.8 692.9,234.3 690.0,235.0 C687.1,235.7 684.4,238.3 682.8,236.0 C681.2,233.7 680.6,224.2 680.6,221.2Z" fill="url(#gCd)" />
<ellipse cx="687.2" cy="218.3" rx="4.6" ry="1.5" transform="rotate(-5.0 687.2 218.3)" fill="#7b7e81" />
<path d="M682.5,235.0 C684.3,232.1 692.2,232.4 697.0,231.5 C701.8,230.6 707.4,229.6 711.2,229.4 C715.1,229.2 717.7,228.4 720.0,230.6 C722.3,232.8 723.9,238.8 725.0,242.5 C726.1,246.2 727.1,250.0 726.9,252.5 C726.7,255.0 726.6,255.7 723.8,257.5 C720.9,259.3 714.8,261.3 710.0,263.1 C705.2,264.9 697.9,267.6 695.0,268.1 C692.1,268.6 693.6,268.1 692.5,266.2 C691.4,264.4 689.5,259.9 688.5,257.0 C687.5,254.1 687.2,252.4 686.2,248.8 C685.2,245.1 680.7,237.9 682.5,235.0Z" fill="url(#gBody)"/>
<ellipse cx="722.3" cy="244.2" rx="4.6" ry="13.8" transform="rotate(-17.0 722.3 244.2)" fill="#c6c9cc" stroke="#8d9093" stroke-width="0.7"/>
<ellipse cx="722.3" cy="244.2" rx="2.8" ry="11.2" transform="rotate(-17.0 722.3 244.2)" fill="#b3b6b9" />
<path d="M707.0,230.0 C707.7,231.7 710.1,236.3 711.0,240.0 C711.9,243.7 712.4,248.2 712.5,252.0 C712.6,255.8 711.7,260.8 711.5,262.5" fill="none" stroke="#7f8285" stroke-width="0.7"/>
<path d="M714.0,229.5 C714.7,231.2 717.1,236.4 718.0,240.0 C718.9,243.6 719.4,247.8 719.5,251.0 C719.6,254.2 718.7,258.1 718.5,259.5" fill="none" stroke="#8a8d90" stroke-width="0.7"/>
<polygon points="704.5,249.0 710.2,248.0 712.0,264.0 707.0,265.5" fill="#c9ccce" stroke="#7f8285" stroke-width="0.6"/>
</g>
<g>
<path d="M102,278 L136,275.5 C138,277 138.5,283 138.5,289 L130,300 L122,307.2 L104,306.2 C99,302 98,283 102,278Z" fill="url(#gBody2)"/>
<ellipse cx="100.2" cy="292.0" rx="4.6" ry="14.2" transform="rotate(0.0 100.2 292.0)" fill="#8f9295" stroke="#b9bcbf" stroke-width="0.8"/>
<ellipse cx="99.7" cy="292.0" rx="3.0" ry="11.5" transform="rotate(0.0 99.7 292.0)" fill="#85888b" />
<path d="M109.0,277.3 C108.7,278.6 107.5,281.4 107.2,285.0 C106.9,288.6 106.9,295.4 107.2,299.0 C107.5,302.6 108.7,305.2 109.0,306.5" fill="none" stroke="#eceded" stroke-width="1.6"/>
<path d="M118.0,276.6 C117.7,278.0 116.6,281.3 116.3,285.0 C116.0,288.7 116.0,295.3 116.3,299.0 C116.6,302.7 117.7,305.7 118.0,307.0" fill="none" stroke="#8d9093" stroke-width="0.7"/>
<path d="M111.5,277.0 C111.2,278.3 110.1,281.3 109.8,285.0 C109.5,288.7 109.5,295.4 109.8,299.0 C110.1,302.6 111.2,305.5 111.5,306.8" fill="none" stroke="#8d9093" stroke-width="0.6"/>
<polygon points="123.0,289.5 138.0,289.0 142.0,294.0 156.0,295.0 157.5,298.0 157.0,312.0 155.0,316.0 130.0,316.0 126.0,312.0 122.0,307.0" fill="#bcbfc2" />
<polygon points="128.0,296.0 142.0,294.0 156.0,295.0 157.5,298.0 130.0,299.5" fill="#d2d5d8" />
<polygon points="123.0,289.5 138.0,289.0 142.0,294.0 128.0,296.0 126.0,293.0" fill="#a3a6a9" />
<polygon points="153.5,297.0 157.5,298.0 157.0,312.0 155.0,316.0 152.5,314.0" fill="#a6a9ac" stroke="#8d9093" stroke-width="0.4"/>
</g>
<g>
<path d="M98.4,388 L100,375 C100.6,371 104,368.6 107,369.6 L123,380.8 L127.1,380 L119.2,384.5 L106.9,392.4 L101.5,395 Z" fill="url(#gCd)"/>
<polygon points="106.0,369.4 123.0,380.8 118.0,384.0 103.5,372.5" fill="#a9acaf" />
<path d="M100.1,399.1 C101.0,395.9 103.7,394.8 106.9,392.4 C110.1,390.0 115.8,386.6 119.2,384.5 C122.6,382.4 124.5,380.5 127.1,380.0 C129.7,379.5 132.4,380.2 135.0,381.7 C137.6,383.2 141.1,386.1 142.9,389.0 C144.7,391.9 145.3,395.9 145.7,399.1 C146.1,402.3 146.1,405.9 145.1,408.1 C144.1,410.4 142.3,411.1 139.5,412.6 C136.7,414.1 132.1,415.9 128.2,417.1 C124.3,418.3 119.5,419.7 115.9,419.9 C112.4,420.1 109.4,419.6 106.9,418.2 C104.5,416.8 102.3,414.7 101.2,411.5 C100.1,408.3 99.1,402.3 100.1,399.1Z" fill="url(#gS3)" />
<path d="M100.1,401.0 C100.6,399.3 101.7,397.6 103.0,396.5 C104.3,395.4 106.2,394.5 108.0,394.6 C109.8,394.7 111.9,395.6 113.5,397.0 C115.1,398.4 116.7,400.8 117.5,403.0 C118.3,405.2 118.6,407.8 118.5,410.0 C118.4,412.2 118.1,414.9 117.0,416.5 C115.9,418.1 113.8,419.1 112.0,419.4 C110.2,419.6 107.7,419.1 106.0,418.0 C104.3,416.9 102.8,414.4 101.8,412.5 C100.8,410.6 100.3,408.4 100.0,406.5 C99.7,404.6 99.6,402.7 100.1,401.0Z" fill="#a3a6a9" stroke="#bfc2c5" stroke-width="0.7"/>
<path d="M115.3,395.8 C116.0,396.7 118.4,399.0 119.3,401.0 C120.2,403.0 120.8,405.5 120.8,408.0 C120.8,410.5 119.8,414.7 119.6,416.0" fill="none" stroke="#f0f1f1" stroke-width="1.5"/>
<path d="M121.3,389.0 C122.1,390.2 125.0,393.2 126.0,396.0 C127.0,398.8 127.6,402.5 127.6,406.0 C127.6,409.5 126.4,415.0 126.2,416.8" fill="none" stroke="#888b8e" stroke-width="0.7"/>
<polygon points="131.6,400.2 135.6,399.4 136.4,415.2 132.6,416.2" fill="#bfc2c5" stroke="#85888b" stroke-width="0.5"/>
</g>
<g>
<polygon points="217.0,462.0 227.0,461.5 242.0,467.0 245.0,470.0 244.0,484.0 241.0,487.0 220.0,480.0 216.0,478.0" fill="url(#gB)" />
<polygon points="239.5,466.3 244.7,470.0 243.9,484.0 241.0,486.8 238.0,483.0" fill="#c0c3c6" stroke="#85888b" stroke-width="0.5"/>
<polygon points="189.0,453.5 191.6,452.4 192.4,455.0 189.8,456.2" fill="#a0a3a6" />
<polygon points="223.0,457.0 226.5,458.0 227.0,462.5 223.0,462.0" fill="#a0a3a6" />
<path d="M181.5,471.0 C182.0,468.0 183.2,463.0 185.0,460.0 C186.8,457.0 188.7,455.2 192.0,453.0 C195.3,450.8 202.0,447.8 205.0,446.5 C208.0,445.2 208.2,444.8 210.0,445.0 C211.8,445.2 214.0,446.3 216.0,448.0 C218.0,449.7 220.5,452.3 222.0,455.0 C223.5,457.7 225.0,460.7 225.0,464.0 C225.0,467.3 223.7,472.0 222.0,475.0 C220.3,478.0 217.8,480.2 215.0,482.0 C212.2,483.8 208.0,484.6 205.0,485.5 C202.0,486.4 200.0,487.4 197.0,487.2 C194.0,486.9 189.5,485.5 187.0,484.0 C184.5,482.5 182.9,480.2 182.0,478.0 C181.1,475.8 181.0,474.0 181.5,471.0Z" fill="url(#gS3)" />
<path d="M182.0,474.0 C182.1,471.7 183.6,469.5 185.0,468.0 C186.4,466.5 188.7,465.3 190.5,465.0 C192.3,464.7 194.3,465.1 196.0,466.0 C197.7,466.9 199.5,468.7 200.5,470.5 C201.5,472.3 202.1,474.9 202.0,477.0 C201.9,479.1 201.1,481.5 200.0,483.0 C198.9,484.5 197.2,485.7 195.5,486.2 C193.8,486.7 191.3,486.5 189.5,485.8 C187.7,485.1 185.8,484.0 184.5,482.0 C183.2,480.0 181.9,476.3 182.0,474.0Z" fill="#a9acaf" stroke="#c2c5c8" stroke-width="0.8"/>
<path d="M199.0,463.2 C199.7,463.9 202.1,465.8 203.0,467.5 C203.9,469.2 204.4,472.5 204.7,473.5" fill="none" stroke="#f0f1f1" stroke-width="1.3"/>
<path d="M205.0,456.0 C205.9,457.0 209.2,459.7 210.5,462.0 C211.8,464.3 212.4,467.2 212.5,470.0 C212.6,472.8 211.2,477.1 211.0,478.5" fill="none" stroke="#8a8d90" stroke-width="0.7"/>
<polygon points="208.0,445.0 211.0,444.3 211.5,449.5 208.5,450.2" fill="#f2f3f3" />
</g>
<g>
<path d="M302.0,482.0 C302.4,479.6 303.2,477.2 304.0,475.5 C304.8,473.8 305.5,473.1 307.0,472.0 C308.5,470.9 311.0,469.2 313.0,469.0 C315.0,468.8 317.6,469.3 319.0,470.5 C320.4,471.7 321.7,473.9 321.5,476.0 C321.3,478.1 319.2,480.7 318.0,483.0 C316.8,485.3 315.2,487.9 314.5,490.0 C313.8,492.1 314.8,493.9 313.5,495.5 C312.2,497.1 308.8,499.1 307.0,499.3 C305.2,499.6 303.4,498.6 302.5,497.0 C301.6,495.4 301.8,492.5 301.7,490.0 C301.6,487.5 301.6,484.4 302.0,482.0Z" fill="#9da0a3" />
<path d="M302.5,484.0 C303.0,481.3 304.4,481.1 306.0,480.5 C307.6,479.9 310.5,479.9 312.0,480.5 C313.5,481.1 314.9,481.6 315.2,484.0 C315.4,486.4 314.9,492.5 313.5,495.0 C312.1,497.5 308.8,498.8 307.0,499.0 C305.2,499.2 303.6,499.0 302.8,496.5 C302.1,494.0 302.0,486.7 302.5,484.0Z" fill="#b8bbbe" />
<path d="M312.0,502.0 C311.9,498.8 313.0,494.0 314.5,490.0 C316.0,486.0 319.1,480.6 321.0,478.0 C322.9,475.4 323.8,475.2 326.0,474.5 C328.2,473.8 331.5,473.2 334.0,473.5 C336.5,473.8 338.8,474.6 341.0,476.0 C343.2,477.4 345.7,479.8 347.0,482.0 C348.3,484.2 348.8,486.5 349.0,489.0 C349.2,491.5 348.7,494.5 348.0,497.0 C347.3,499.5 346.5,501.8 345.0,504.0 C343.5,506.2 341.3,508.4 339.0,510.0 C336.7,511.6 333.8,513.1 331.0,513.6 C328.2,514.1 324.7,514.0 322.0,513.2 C319.3,512.4 316.7,510.9 315.0,509.0 C313.3,507.1 312.1,505.2 312.0,502.0Z" fill="url(#gS2)" />
<polygon points="343.5,490.3 347.3,489.8 347.6,504.5 344.0,505.5" fill="#b9bcbf" stroke="#85888b" stroke-width="0.5"/>
<ellipse cx="325.2" cy="502.5" rx="12.6" ry="11.4" transform="rotate(-10.0 325.2 502.5)" fill="#8e9194" />
<ellipse cx="324.9" cy="502.8" rx="10.8" ry="9.7" transform="rotate(-10.0 324.9 502.8)" fill="#c2c5c9" />
<polygon points="330.5,471.5 334.0,471.3 334.2,476.0 330.8,476.3" fill="#f0f1f1" />
</g>
<g font-weight="bold" font-size="17.8" fill="#000" stroke="#000" stroke-width="0.55" stroke-linejoin="round">
<text transform="translate(126.5 105.2) scale(1.06 1.03)">6</text>
<path d="M135.1,170 L135.1,183.1 L131.1,183.1 L131.1,174.7 C130.2,175.7 129.1,176.4 127.9,176.9 L127.9,173.5 C130,172.7 131.6,171.5 132.4,170 Z" stroke="none"/>
<text transform="translate(387.5 101.7) scale(1.06 1.03)">7</text>
<text transform="translate(456.5 30.7) scale(1.06 1.03)">5</text>
<text transform="translate(439.5 79.7) scale(1.06 1.03)">3</text>
<text transform="translate(648.8 25.7) scale(1.06 1.03)">5</text>
<text transform="translate(605.5 53.0) scale(1.06 1.03)">4</text>
<text transform="translate(667.5 110.7) scale(1.06 1.03)">4</text>
<text transform="translate(701.9 90.7) scale(1.06 1.03)">5</text>
<text transform="translate(705.0 301.7) scale(1.06 1.03)">3</text>
<text transform="translate(735.8 289.7) scale(1.06 1.03)">5</text>
<text transform="translate(73.5 253.1) scale(1.06 1.03)">5</text>
<text transform="translate(111.5 252.3) scale(1.06 1.03)">2</text>
<text transform="translate(117.0 361.7) scale(1.06 1.03)">3</text>
<text transform="translate(75.5 378.7) scale(1.06 1.03)">5</text>
<text transform="translate(187.8 433.7) scale(1.06 1.03)">3</text>
<text transform="translate(159.0 458.7) scale(1.06 1.03)">5</text>
<text transform="translate(369.0 495.7) scale(1.06 1.03)">2</text>
<text transform="translate(341.8 536.7) scale(1.06 1.03)">5</text>
</g>
<line x1="228.0" y1="200.4" x2="384.0" y2="162.0" stroke="#111" stroke-width="1.3"/>
<line x1="395.0" y1="159.5" x2="427.5" y2="152.0" stroke="#111" stroke-width="1.3"/>
<line x1="432.5" y1="150.6" x2="440.0" y2="149.0" stroke="#111" stroke-width="1.3"/>
<line x1="440.0" y1="149.0" x2="457.0" y2="145.0" stroke="#111" stroke-width="1.3" stroke-dasharray="6 3"/>
<circle cx="457.0" cy="145.0" r="2.3" fill="#000"/>
<line x1="341.0" y1="149.0" x2="415.0" y2="143.8" stroke="#111" stroke-width="1.3"/>
<line x1="424.0" y1="143.0" x2="440.0" y2="142.0" stroke="#111" stroke-width="1.3"/>
<line x1="440.0" y1="142.0" x2="475.0" y2="140.0" stroke="#111" stroke-width="1.3" stroke-dasharray="7 3"/>
<circle cx="475.0" cy="140.0" r="2.3" fill="#000"/>
<line x1="490.4" y1="89.0" x2="492.0" y2="108.0" stroke="#111" stroke-width="1.3"/>
<line x1="492.0" y1="108.0" x2="493.0" y2="128.5" stroke="#111" stroke-width="1.3" stroke-dasharray="6 2.5"/>
<circle cx="493.0" cy="128.5" r="2.3" fill="#000"/>
<line x1="611.6" y1="109.6" x2="580.0" y2="141.0" stroke="#111" stroke-width="1.3"/>
<line x1="576.5" y1="145.0" x2="563.4" y2="159.0" stroke="#111" stroke-width="1.3" stroke-dasharray="5 3"/>
<circle cx="563.4" cy="159.0" r="2.3" fill="#000"/>
<line x1="662.0" y1="164.4" x2="614.0" y2="182.0" stroke="#111" stroke-width="1.3"/>
<line x1="609.0" y1="184.0" x2="595.4" y2="189.6" stroke="#111" stroke-width="1.3" stroke-dasharray="5 4"/>
<circle cx="595.4" cy="189.6" r="2.3" fill="#000"/>
<line x1="681.0" y1="236.6" x2="626.0" y2="227.5" stroke="#111" stroke-width="1.3"/>
<line x1="622.0" y1="226.8" x2="608.0" y2="225.0" stroke="#111" stroke-width="1.3" stroke-dasharray="8 4"/>
<circle cx="608.0" cy="225.0" r="2.3" fill="#000"/>
<line x1="158.0" y1="310.0" x2="191.0" y2="325.0" stroke="#111" stroke-width="1.3"/>
<line x1="193.0" y1="326.0" x2="204.0" y2="331.5" stroke="#111" stroke-width="1.3" stroke-dasharray="5 2"/>
<circle cx="204.0" cy="332.0" r="2.3" fill="#000"/>
<line x1="146.0" y1="391.6" x2="212.0" y2="381.7" stroke="#111" stroke-width="1.3"/>
<line x1="214.0" y1="381.4" x2="221.0" y2="380.4" stroke="#111" stroke-width="1.3"/>
<circle cx="223.0" cy="380.0" r="2.3" fill="#000"/>
<line x1="217.0" y1="447.0" x2="243.0" y2="407.0" stroke="#111" stroke-width="1.3"/>
<line x1="243.0" y1="407.0" x2="251.0" y2="395.5" stroke="#111" stroke-width="1.3" stroke-dasharray="7 2"/>
<circle cx="251.0" cy="395.5" r="2.3" fill="#000"/>
<line x1="333.0" y1="470.0" x2="327.0" y2="441.0" stroke="#111" stroke-width="1.3"/>
<line x1="326.6" y1="439.0" x2="324.4" y2="428.0" stroke="#111" stroke-width="1.3" stroke-dasharray="5 2"/>
<circle cx="324.0" cy="426.0" r="2.3" fill="#000"/>
<line x1="137.0" y1="98.0" x2="164.0" y2="98.0" stroke="#111" stroke-width="1.6"/>
<line x1="137.0" y1="176.4" x2="161.0" y2="176.4" stroke="#111" stroke-width="1.6"/>
<line x1="363.0" y1="94.4" x2="386.0" y2="94.4" stroke="#111" stroke-width="1.6"/>
<line x1="467.0" y1="24.0" x2="488.0" y2="24.0" stroke="#111" stroke-width="1.6"/>
<line x1="450.0" y1="73.0" x2="469.0" y2="73.0" stroke="#111" stroke-width="1.6"/>
<line x1="654.0" y1="28.0" x2="654.0" y2="47.0" stroke="#111" stroke-width="1.6"/>
<line x1="611.0" y1="56.0" x2="611.0" y2="74.0" stroke="#111" stroke-width="1.6"/>
<line x1="672.6" y1="113.0" x2="672.6" y2="130.0" stroke="#111" stroke-width="1.6"/>
<line x1="707.0" y1="93.0" x2="707.0" y2="111.0" stroke="#111" stroke-width="1.6"/>
<line x1="710.0" y1="266.0" x2="710.0" y2="285.0" stroke="#111" stroke-width="1.6"/>
<line x1="741.0" y1="254.0" x2="741.0" y2="273.0" stroke="#111" stroke-width="1.6"/>
<line x1="78.6" y1="256.0" x2="78.6" y2="274.0" stroke="#111" stroke-width="1.6"/>
<line x1="116.6" y1="255.0" x2="116.6" y2="274.0" stroke="#111" stroke-width="1.6"/>
<line x1="122.4" y1="364.0" x2="122.4" y2="379.0" stroke="#111" stroke-width="1.6"/>
<line x1="80.4" y1="380.6" x2="80.4" y2="399.0" stroke="#111" stroke-width="1.6"/>
<line x1="193.0" y1="436.0" x2="193.0" y2="451.0" stroke="#111" stroke-width="1.6"/>
<line x1="164.4" y1="461.0" x2="164.4" y2="477.0" stroke="#111" stroke-width="1.6"/>
<line x1="350.0" y1="488.6" x2="368.0" y2="488.6" stroke="#111" stroke-width="1.6"/>
<line x1="323.0" y1="530.0" x2="341.0" y2="530.0" stroke="#111" stroke-width="1.6"/>
<rect x="721.7" y="490.9" width="70.3" height="47.3" fill="#fff" stroke="#3a3a3a" stroke-width="1"/>
<polygon points="727.5,506.6 736.9,512.2 767.5,494.5 786.9,505.4 786.9,510.4 763.1,524.75 765.6,527.9 765.6,534.1 727.5,534.1" fill="#000"/>
<polygon points="728.3,508 736.9,513.3 767.5,495.6 785.4,505.6 757.2,522.6 762.6,526.9 728.3,526.9" fill="#fff"/>
<text x="738.8" y="552.6" font-size="12" fill="#2e2e2e" textLength="42.3" lengthAdjust="spacingAndGlyphs">464294</text>

</svg>
</body></html>
